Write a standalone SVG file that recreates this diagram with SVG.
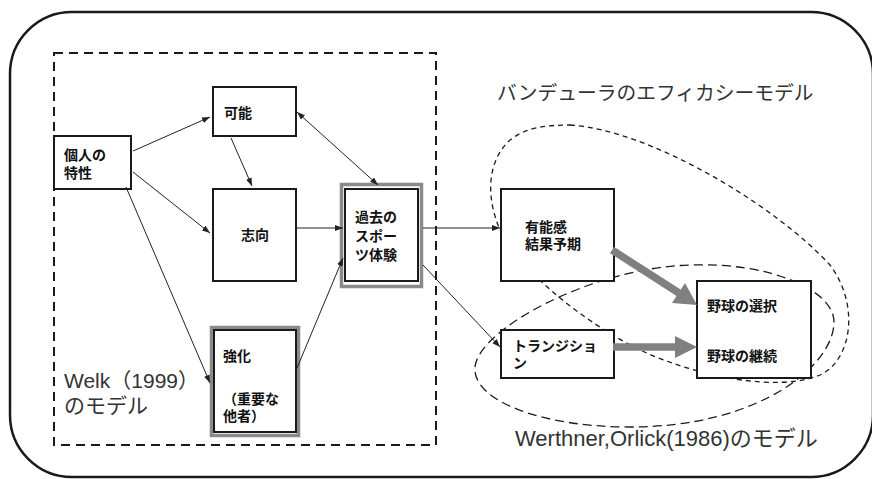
<svg xmlns="http://www.w3.org/2000/svg" width="872" height="479" viewBox="0 0 872 479">
<style>
.box{fill:#fff;stroke:#1a1a1a;stroke-width:2}
.gray{fill:#fff;stroke:#8a8a8a;stroke-width:3.5}
.nt{font-family:"Noto Sans CJK JP","Liberation Sans",sans-serif;font-size:14px;font-weight:bold;fill:#111}
.lb{font-family:"Liberation Sans","Noto Sans CJK JP",sans-serif;fill:#333}
.cn{stroke:#222;stroke-width:1;fill:none}
.thick{stroke:#808080;stroke-width:7.5;fill:none}
.ah{fill:#808080}
</style>
<defs>
<marker id="arr" markerUnits="userSpaceOnUse" markerWidth="9" markerHeight="7" refX="8" refY="3" orient="auto-start-reverse">
<path d="M0,0 L8,3 L0,6 Z" fill="#222"/>
</marker>
</defs>
<rect x="10" y="12" width="863" height="465" rx="62" ry="62" fill="none" stroke="#1a1a1a" stroke-width="2.5"/>
<rect id="welk-frame" x="54" y="53" width="382" height="392" fill="none" stroke="#1a1a1a" stroke-width="2" stroke-dasharray="9,6"/>
<g id="ellipse-bandura">
<path d="M570,125 C650,130 775,205 830,265 C860,305 852,360 820,375 C780,392 700,378 640,350 C580,320 520,270 500,230 C485,195 488,160 510,140 C525,128 545,125 570,125 Z" fill="none" stroke="#1a1a1a" stroke-width="1.3" stroke-dasharray="5,4"/>
</g>
<g id="ellipse-werthner">
<path d="M475,367 C478,330 590,268 690,265 C770,262 834,290 834,322 C834,365 760,427 630,427 C540,427 472,400 475,367 Z" fill="none" stroke="#1a1a1a" stroke-width="1.3" stroke-dasharray="9,5"/>
</g>
<g id="labels">
<text class="lb" x="497" y="100" font-size="19.75">バンデューラのエフィカシーモデル</text>
<text class="lb" font-size="21"><tspan x="64" y="388">Welk（1999）</tspan><tspan x="64" y="413">のモデル</tspan></text>
<text class="lb" x="515" y="446" font-size="22">Werthner,Orlick(1986)のモデル</text>
</g>
<g id="node-kojin">
<rect class="box" x="54" y="136" width="77" height="53"/>
<text class="nt"><tspan x="64" y="160">個人の</tspan><tspan x="64" y="178">特性</tspan></text>
</g>
<g id="node-kanou">
<rect class="box" x="213" y="87" width="83" height="49"/>
<text class="nt" x="224" y="118">可能</text>
</g>
<g id="node-shikou">
<rect class="box" x="213" y="189" width="83" height="92"/>
<text class="nt" x="241" y="240">志向</text>
</g>
<g id="node-kako">
<rect class="gray" x="341.5" y="184.5" width="80" height="102"/>
<rect class="box" x="345" y="189" width="73" height="92"/>
<text class="nt"><tspan x="355" y="222">過去の</tspan><tspan x="355" y="241">スポー</tspan><tspan x="355" y="260">ツ体験</tspan></text>
</g>
<g id="node-kyouka">
<rect class="gray" x="211.5" y="327.5" width="87" height="108"/>
<rect class="box" x="214" y="330" width="82" height="102"/>
<text class="nt"><tspan x="223" y="361">強化</tspan><tspan x="223" y="404">（重要な</tspan><tspan x="223" y="421">他者）</tspan></text>
</g>
<g id="node-yuunou">
<rect class="box" x="501" y="189" width="113" height="92"/>
<text class="nt"><tspan x="525" y="232">有能感</tspan><tspan x="525" y="249">結果予期</tspan></text>
</g>
<g id="node-transition">
<rect class="box" x="501" y="330" width="113" height="48"/>
<text class="nt"><tspan x="513" y="351">トランジショ</tspan><tspan x="513" y="368">ン</tspan></text>
</g>
<g id="node-yakyuu">
<rect class="box" x="697" y="281" width="114" height="97"/>
<text class="nt"><tspan x="707" y="311">野球の選択</tspan><tspan x="707" y="361">野球の継続</tspan></text>
</g>
<g id="connectors">
<line class="cn" x1="133" y1="151" x2="210" y2="117" marker-end="url(#arr)"/>
<line class="cn" x1="133" y1="172" x2="210" y2="233" marker-end="url(#arr)"/>
<line class="cn" x1="126" y1="187" x2="210" y2="383" marker-end="url(#arr)"/>
<line class="cn" x1="231" y1="138" x2="252" y2="186" marker-end="url(#arr)"/>
<line class="cn" x1="297" y1="112" x2="378" y2="185" marker-start="url(#arr)" marker-end="url(#arr)"/>
<line class="cn" x1="296" y1="228" x2="343" y2="228" marker-end="url(#arr)"/>
<line class="cn" x1="297" y1="368" x2="343" y2="258" marker-end="url(#arr)"/>
<line class="cn" x1="423" y1="228" x2="500" y2="228" marker-end="url(#arr)"/>
<line class="cn" x1="423" y1="265" x2="500" y2="347" marker-end="url(#arr)"/>
<line class="thick" x1="612" y1="250" x2="679" y2="293"/>
<polygon class="ah" points="697,305 672,303 685,283"/>
<line class="thick" x1="613" y1="347" x2="676" y2="347"/>
<polygon class="ah" points="697,347 675,336 675,358"/>
</g>
</svg>
